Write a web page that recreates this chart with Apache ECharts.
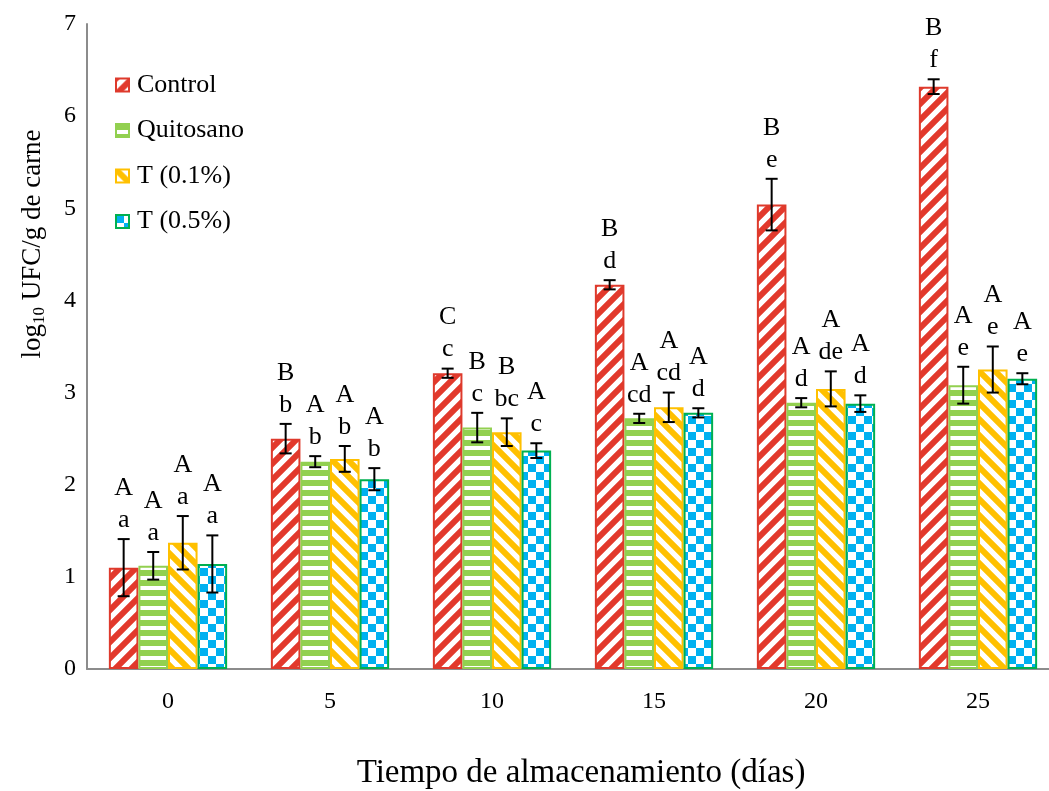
<!DOCTYPE html>
<html>
<head>
<meta charset="utf-8">
<script src="https://cdn.jsdelivr.net/npm/echarts@6/dist/echarts.min.js"></script>
<style>
  html, body { margin: 0; padding: 0; background: #fff; }
  #chart { width: 1049px; height: 791px; }
</style>
</head>
<body>
<div id="chart"></div>
<script>
// dias de almacenamiento
var days = ['0', '5', '10', '15', '20', '25']
var seriesNames = ['Control', 'Quitosano', 'T (0.1%)', 'T (0.5%)']

// log10 UFC/g
var control = [1.10, 2.50, 3.21, 4.17, 5.04, 6.32]
var controlErr = [0.31, 0.16, 0.05, 0.05, 0.28, 0.08]
var quitosano = [1.12, 2.25, 2.62, 2.72, 2.89, 3.08]
var quitosanoErr = [0.15, 0.06, 0.16, 0.05, 0.05, 0.20]
var t01 = [1.37, 2.28, 2.57, 2.84, 3.04, 3.25]
var t01Err = [0.29, 0.14, 0.15, 0.16, 0.19, 0.25]
var t05 = [1.14, 2.06, 2.37, 2.78, 2.88, 3.15]
var t05Err = [0.31, 0.12, 0.08, 0.05, 0.09, 0.06]

// letras de significancia (mayuscula: entre tratamientos, minuscula: entre dias)
var controlUpper = ['A', 'B', 'C', 'B', 'B', 'B']
var controlLower = ['a', 'b', 'c', 'd', 'e', 'f']
var quitosanoUpper = ['A', 'A', 'B', 'A', 'A', 'A']
var quitosanoLower = ['a', 'b', 'c', 'cd', 'd', 'e']
var t01Upper = ['A', 'A', 'B', 'A', 'A', 'A']
var t01Lower = ['a', 'b', 'bc', 'cd', 'de', 'e']
var t05Upper = ['A', 'A', 'A', 'A', 'A', 'A']
var t05Lower = ['a', 'b', 'c', 'd', 'd', 'e']

var FONT = "'Liberation Serif', 'Times New Roman', serif"
var CAT_GAP = 0.27

function makePattern(kind, color) {
  var c = document.createElement('canvas')
  var ctx = c.getContext('2d')
  var s
  if (kind === 'up' || kind === 'down') {
    s = 16
    c.width = s; c.height = s
    ctx.fillStyle = '#fff'
    ctx.fillRect(0, 0, s, s)
    ctx.strokeStyle = color
    ctx.lineWidth = 6
    ctx.beginPath()
    if (kind === 'up') {
      ctx.moveTo(-s / 2, s * 1.5); ctx.lineTo(s * 1.5, -s / 2)
      ctx.moveTo(-s / 2, s / 2); ctx.lineTo(s / 2, -s / 2)
      ctx.moveTo(s / 2, s * 1.5); ctx.lineTo(s * 1.5, s / 2)
    } else {
      ctx.moveTo(-s / 2, -s / 2); ctx.lineTo(s * 1.5, s * 1.5)
      ctx.moveTo(-s / 2, s / 2); ctx.lineTo(s / 2, s * 1.5)
      ctx.moveTo(s / 2, -s / 2); ctx.lineTo(s * 1.5, s / 2)
    }
    ctx.stroke()
  } else if (kind === 'horiz') {
    s = 10
    c.width = s; c.height = s
    ctx.fillStyle = '#fff'
    ctx.fillRect(0, 0, s, s)
    ctx.fillStyle = color
    ctx.fillRect(0, 0, s, 6)
  } else {
    s = 16
    c.width = s; c.height = s
    ctx.fillStyle = '#fff'
    ctx.fillRect(0, 0, s, s)
    ctx.fillStyle = color
    ctx.fillRect(0, 0, s / 2, s / 2)
    ctx.fillRect(s / 2, s / 2, s / 2, s / 2)
  }
  return { image: c, repeat: 'repeat' }
}

var fills = [
  makePattern('up', '#E2392C'),
  makePattern('horiz', '#92D050'),
  makePattern('down', '#FFC000'),
  makePattern('check', '#00B0F0')
]
var borders = ['#DE3A2C', '#92D050', '#FFC000', '#00B050']

var values = [control, quitosano, t01, t05]
var errors = [controlErr, quitosanoErr, t01Err, t05Err]
var uppers = [controlUpper, quitosanoUpper, t01Upper, t05Upper]
var lowers = [controlLower, quitosanoLower, t01Lower, t05Lower]

function errorRender(idx) {
  return function (params, api) {
    var band = api.size([1, 0])[0]
    var barW = band * (1 - CAT_GAP) / 4
    var shift = (idx - 1.5) * barW
    var hi = api.coord([api.value(0), api.value(1) + api.value(2)])
    var lo = api.coord([api.value(0), api.value(1) - api.value(2)])
    var x = hi[0] + shift
    var cap = 6
    var st = { stroke: '#000', lineWidth: 2 }
    var i = params.dataIndex
    return {
      type: 'group',
      children: [
        { type: 'line', shape: { x1: x, y1: hi[1], x2: x, y2: lo[1] }, style: st },
        { type: 'line', shape: { x1: x - cap, y1: hi[1], x2: x + cap, y2: hi[1] }, style: st },
        { type: 'line', shape: { x1: x - cap, y1: lo[1], x2: x + cap, y2: lo[1] }, style: st },
        {
          type: 'text',
          style: {
            x: x,
            y: hi[1] - 3,
            text: uppers[idx][i] + '\n' + lowers[idx][i],
            fill: '#000',
            fontFamily: FONT,
            fontSize: 26,
            lineHeight: 32,
            align: 'center',
            verticalAlign: 'bottom'
          }
        }
      ]
    }
  }
}

var series = []
seriesNames.forEach(function (name, k) {
  series.push({
    name: name,
    type: 'bar',
    barGap: '0%',
    barCategoryGap: (CAT_GAP * 100) + '%',
    data: values[k],
    itemStyle: { color: fills[k], borderColor: borders[k], borderWidth: 2 }
  })
})
seriesNames.forEach(function (name, k) {
  series.push({
    name: name + ' err',
    type: 'custom',
    renderItem: errorRender(k),
    encode: { x: 0, y: 1 },
    data: days.map(function (d, i) { return [i, values[k][i], errors[k][i]] }),
    z: 10
  })
})

var chart = echarts.init(document.getElementById('chart'))
chart.setOption({
  animation: false,
  backgroundColor: '#fff',
  grid: { left: 87, width: 972, top: 24, height: 645, outerBoundsMode: 'none' },
  legend: {
    orient: 'vertical',
    left: 110,
    top: 67,
    itemWidth: 13,
    itemHeight: 13,
    itemGap: 19.5,
    icon: 'rect',
    data: seriesNames,
    textStyle: { fontFamily: FONT, fontSize: 26, color: '#000', padding: [0, 0, 0, 3] }
  },
  xAxis: {
    type: 'category',
    data: days,
    axisLine: { lineStyle: { color: '#8C8C8C', width: 2 } },
    axisTick: { show: false },
    axisLabel: { fontFamily: FONT, fontSize: 24, color: '#000', margin: 21 }
  },
  yAxis: {
    type: 'value',
    min: 0,
    max: 7,
    interval: 1,
    splitLine: { show: false },
    axisLine: { show: true, lineStyle: { color: '#8C8C8C', width: 2 } },
    axisTick: { show: false },
    axisLabel: { fontFamily: FONT, fontSize: 24, color: '#000', margin: 11 }
  },
  graphic: [
    {
      type: 'text',
      x: 33,
      y: 244,
      rotation: Math.PI / 2,
      style: {
        text: '{a|log}{b|10}{a| UFC/g de carne}',
        align: 'center',
        verticalAlign: 'middle',
        fill: '#000',
        rich: {
          a: { fontFamily: FONT, fontSize: 27, lineHeight: 30, fill: '#000' },
          b: { fontFamily: FONT, fontSize: 17, lineHeight: 30, verticalAlign: 'bottom', fill: '#000' }
        }
      }
    },
    {
      type: 'text',
      x: 581,
      y: 773,
      style: {
        text: 'Tiempo de almacenamiento (días)',
        align: 'center',
        verticalAlign: 'middle',
        fill: '#000',
        fontFamily: FONT,
        fontSize: 33
      }
    }
  ],
  series: series
})
</script>
</body>
</html>
